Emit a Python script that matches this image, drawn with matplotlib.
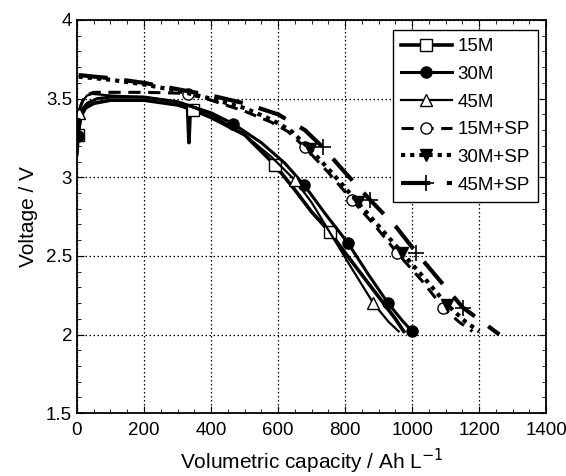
import matplotlib
matplotlib.use("Agg")
import matplotlib.pyplot as plt
from matplotlib.ticker import MultipleLocator

plt.rcParams["font.family"] = ["Liberation Sans", "DejaVu Sans"]

# capacity (Ah/L) and voltage (V)
x_15m = [0, 3, 10, 25, 50, 100, 200, 300, 330, 334, 338, 345, 400, 500, 590, 650, 700, 755, 800, 850, 900, 950, 975]
y_15m = [3.15, 3.27, 3.38, 3.44, 3.47, 3.49, 3.49, 3.46, 3.44, 3.22, 3.43, 3.43, 3.38, 3.27, 3.08, 2.92, 2.78, 2.65, 2.52, 2.38, 2.24, 2.10, 2.02]

x_30m = [0, 3, 15, 30, 60, 100, 200, 300, 400, 466, 550, 620, 678, 740, 809, 870, 928, 970, 1000]
y_30m = [3.18, 3.26, 3.43, 3.47, 3.50, 3.51, 3.51, 3.48, 3.41, 3.34, 3.22, 3.09, 2.95, 2.77, 2.58, 2.38, 2.20, 2.09, 2.02]

x_45m = [0, 5, 15, 30, 45, 100, 200, 300, 400, 500, 580, 651, 700, 760, 820, 884, 930, 960]
y_45m = [3.30, 3.41, 3.48, 3.52, 3.53, 3.52, 3.51, 3.48, 3.40, 3.27, 3.13, 2.98, 2.84, 2.63, 2.42, 2.20, 2.08, 2.02]

x_15sp = [0, 10, 25, 50, 100, 200, 300, 330, 400, 500, 580, 630, 680, 750, 821, 890, 955, 1030, 1093, 1140, 1180]
y_15sp = [3.30, 3.45, 3.52, 3.54, 3.54, 3.54, 3.535, 3.53, 3.49, 3.42, 3.35, 3.29, 3.19, 3.03, 2.855, 2.69, 2.52, 2.34, 2.17, 2.08, 2.02]

x_30sp = [5, 50, 100, 200, 300, 400, 500, 577, 636, 695, 760, 838, 900, 970, 1040, 1104, 1160, 1200]
y_30sp = [3.64, 3.63, 3.62, 3.59, 3.55, 3.50, 3.44, 3.37, 3.30, 3.18, 3.03, 2.84, 2.69, 2.52, 2.35, 2.19, 2.08, 2.02]

x_45sp = [5, 50, 100, 200, 300, 400, 500, 600, 680, 734, 800, 875, 950, 1013, 1080, 1152, 1210, 1260]
y_45sp = [3.65, 3.64, 3.63, 3.60, 3.56, 3.52, 3.47, 3.40, 3.30, 3.19, 3.03, 2.855, 2.69, 2.52, 2.35, 2.17, 2.08, 2.00]

fig = plt.figure(figsize=(5.66, 4.76), dpi=100)
ax = fig.add_axes([0.136, 0.132, 0.829, 0.826])

k = "black"
ax.plot(x_15m, y_15m, color=k, lw=2.6, marker="s", ms=8, mfc="white", mec=k,
        markevery=[1, 11, 14, 17], label="15M")
ax.plot(x_30m, y_30m, color=k, lw=2.2, marker="o", ms=8, mfc=k, mec=k,
        markevery=[1, 9, 12, 14, 16, 18], label="30M")
ax.plot(x_45m, y_45m, color=k, lw=1.6, marker="^", ms=8, mfc="white", mec=k,
        markevery=[1, 11, 15], label="45M")
ax.plot(x_15sp, y_15sp, color=k, lw=2.2, ls=(0, (4, 2.5)), marker="o", ms=8,
        mfc="white", mec=k, markevery=[7, 12, 14, 16, 18], label="15M+SP")
ax.plot(x_30sp, y_30sp, color=k, lw=3.0, ls=(0, (1, 1.2)), marker="v", ms=8,
        mfc=k, mec=k, markevery=[9, 11, 13, 15], label="30M+SP")
ax.plot(x_45sp, y_45sp, color=k, lw=3.0, ls=(0, (7, 4)), marker="+", ms=11,
        mew=1.2, mec=k, markevery=[9, 11, 13, 15], label="45M+SP")

ax.set_xlim(0, 1400)
ax.set_ylim(1.5, 4)
ax.xaxis.set_major_locator(MultipleLocator(200))
ax.xaxis.set_minor_locator(MultipleLocator(50))
ax.yaxis.set_minor_locator(MultipleLocator(0.1))
ax.set_yticks([1.5, 2, 2.5, 3, 3.5, 4])
ax.set_yticklabels(["1.5", "2", "2.5", "3", "3.5", "4"])
ax.tick_params(which="both", direction="in", top=True, right=True, labelsize=13.5)
ax.tick_params(axis="x", pad=6)
ax.tick_params(which="major", length=5)
ax.tick_params(which="minor", length=3)
ax.grid(True, which="major", color=k, ls=(0, (1.2, 2)), lw=0.9)
for s in ax.spines.values():
    s.set_linewidth(1.3)

ax.set_xlabel("Volumetric capacity / Ah L$^{-1}$", fontsize=15, labelpad=6)
ax.set_ylabel("Voltage / V", fontsize=15, labelpad=6)

leg = ax.legend(loc="upper right", fontsize=13.5, frameon=True, fancybox=False,
                edgecolor=k, framealpha=1, handlelength=2.7, handletextpad=0.3,
                labelspacing=0.56, borderpad=0.45, borderaxespad=0,
                bbox_to_anchor=(0.983, 0.975))
leg.get_frame().set_linewidth(1.0)

fig.savefig("out.png", dpi=100)
